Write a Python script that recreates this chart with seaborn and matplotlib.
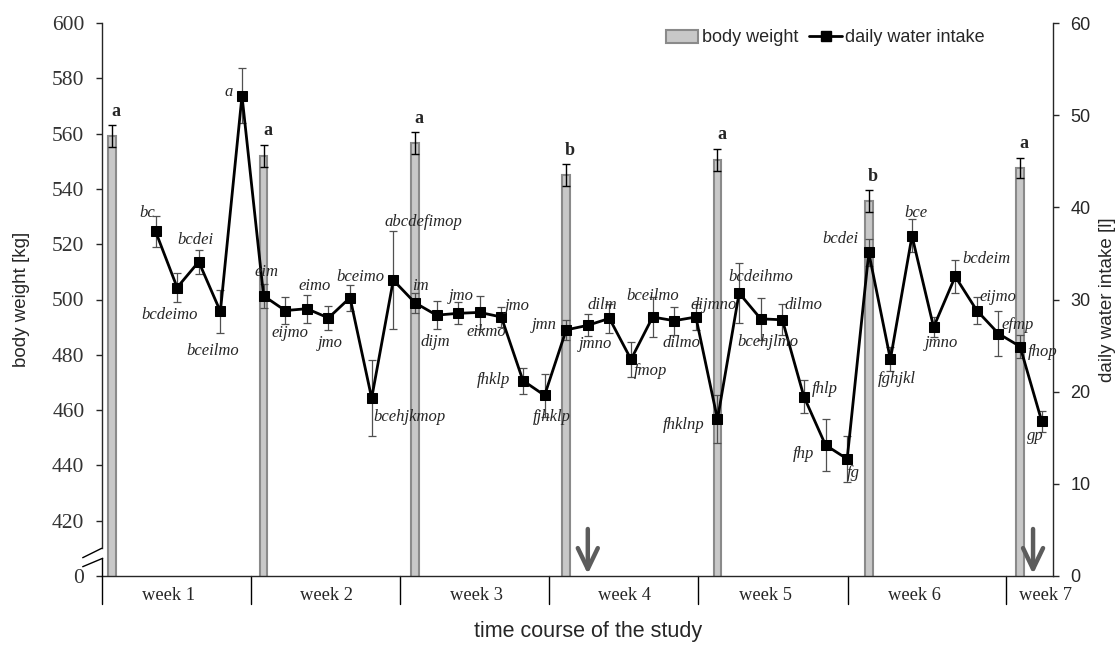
import matplotlib
matplotlib.use("Agg")
import matplotlib.pyplot as plt
import matplotlib.transforms as mtransforms
from matplotlib.lines import Line2D
from matplotlib.patches import Patch
import seaborn as sns

# ---------------------------------------------------------------- data
# body weight, weighed once a week (study day, mean, SD, group letter)
weigh_days = [0, 7, 14, 21, 28, 35, 42]
body_weight = [559.0, 552.0, 556.5, 545.0, 550.5, 535.5, 547.5]
body_weight_err = [4.0, 4.0, 4.0, 4.0, 4.0, 4.0, 3.7]
body_weight_groups = ["a", "a", "a", "b", "a", "b", "a"]

# daily water intake, study days 2 to 43 (mean, SD, group letters)
water_days = list(range(2, 44))
water_intake = [37.4, 31.3, 34.1, 28.7, 52.1,
                30.4, 28.8, 29.0, 28.0, 30.2, 19.3, 32.1,
                29.65, 28.3, 28.5, 28.6, 28.1, 21.2, 19.6,
                26.7, 27.2, 27.95, 23.5, 28.1, 27.7, 28.1,
                17.0, 30.7, 27.9, 27.8, 19.45, 14.2, 12.7,
                35.1, 23.5, 36.9, 27.0, 32.5, 28.8, 26.3,
                24.9, 16.8]
water_err = [1.7, 1.6, 1.3, 2.3, 3.0,
             1.3, 1.5, 1.5, 1.3, 1.4, 4.1, 5.3,
             1.1, 1.5, 1.2, 1.8, 1.1, 1.4, 2.3,
             1.1, 1.2, 1.6, 1.9, 2.2, 1.5, 1.4,
             2.6, 3.3, 2.3, 1.7, 1.8, 2.8, 2.5,
             1.5, 1.3, 1.8, 1.1, 1.75, 1.5, 2.4,
             1.3, 1.15]
water_groups = ["bc", "bcdeimo", "bcdei", "bceilmo", "a",
                "eim", "eijmo", "eimo", "jmo", "bceimo", "bcehjkmop", "abcdefimop",
                "im", "dijm", "jmo", "eikmo", "jmo", "fhklp", "fjhklp",
                "jmn", "jmno", "dilm", "fmop", "bceilmo", "dilmo", "dijmno",
                "fhklnp", "bcdeihmo", "bcehjlmo", "dilmo", "fhlp", "fhp", "fg",
                "bcdei", "fghjkl", "bce", "jmno", "bcdeim", "eijmo", "efmp",
                "fhop", "gp"]

week_labels = ["week 1", "week 2", "week 3", "week 4", "week 5", "week 6", "week 7"]
bw_ticks = [400, 420, 440, 460, 480, 500, 520, 540, 560, 580, 600]
bw_tick_labels = ["0", "420", "440", "460", "480", "500", "520", "540", "560", "580", "600"]

# days on which the treatment was given (arrows)
arrow_days = [22, 42.6]

# ---------------------------------------------------------------- layout
# week separators / label centres on the day axis
week_bounds = [-0.5, 6.42, 13.31, 20.22, 27.10, 34.02, 41.37]
week_label_pos = [2.58, 9.93, 16.83, 23.72, 30.2, 37.1, 43.16]

# text offsets (pixels, right / down) of the letter labels from each point
label_offsets = [(-8, -18), (-8, 27), (-3, -22), (-8, 40), (-13, -4),
                 (3, -24), (5, 22), (8, -23), (2, 25), (10, -21), (38, 19), (30, -58),
                 (5, -17), (-1, 27), (3, -17), (7, 20), (16, -11), (-29, -1), (7, 22),
                 (-22, -5), (7.5, 19), (-7, -13), (19, 12), (0, -21), (7.5, 22), (18, -12),
                 (-34, 6), (22, -16), (7, 23), (21, -15), (21, -8), (-22, 9), (6, 14),
                 (-28.5, -13), (6, 20), (4, -23), (8, 16), (31.5, -17), (21, -14), (19, -9),
                 (23, 5), (-6, 15)]

SERIF = "Liberation Serif"
SANS = "Liberation Sans"
BAR_FILL = "#c8c8c8"
BAR_EDGE = "#8a8a8a"

sns.set_style("ticks")
plt.rcParams["font.family"] = [SANS, "DejaVu Sans"]
plt.rcParams["axes.linewidth"] = 1.0

W_PX, H_PX = 1117, 652
fig = plt.figure(figsize=(W_PX / 100, H_PX / 100), dpi=100)
left_px, right_px, top_px, bottom_px = 101.5, 1052.5, 23, 576
ax = fig.add_axes([left_px / W_PX, 1 - bottom_px / H_PX,
                   (right_px - left_px) / W_PX, (bottom_px - top_px) / H_PX])
ax2 = ax.twinx()

# ---------------------------------------------------------------- bars
sns.barplot(x=weigh_days, y=body_weight, native_scale=True, orient="x",
            width=0.36 / 7, color=BAR_FILL, saturation=1, edgecolor=BAR_EDGE,
            linewidth=1.5, errorbar=None, ax=ax, zorder=2)
ax.errorbar(weigh_days, body_weight, yerr=body_weight_err, fmt="none",
            ecolor="black", elinewidth=1.0, capsize=3, capthick=1.0, zorder=3)
for d, w, e, g in zip(weigh_days, body_weight, body_weight_err, body_weight_groups):
    ax.annotate(g, (d, w + e), xytext=(4, 14), textcoords="offset pixels",
                ha="center", va="center", fontsize=13, fontweight="bold",
                family=SERIF)

# ---------------------------------------------------------------- line
ax2.errorbar(water_days, water_intake, yerr=water_err, fmt="none",
             ecolor="#505050", elinewidth=0.9, capsize=3, capthick=0.9, zorder=2)
sns.lineplot(x=water_days, y=water_intake, ax=ax2, color="black", linewidth=2,
             marker="s", markersize=7, markeredgecolor="black", zorder=3)
for d, v, g, (dx, dy) in zip(water_days, water_intake, water_groups, label_offsets):
    ax2.annotate(g, (d, v), xytext=(dx, -dy), textcoords="offset pixels",
                 ha="center", va="center", fontsize=12, fontstyle="italic",
                 family=SERIF)

# ---------------------------------------------------------------- axes
ax.set_xlim(-0.5, 43.5)
ax.set_ylim(400, 600)
ax2.set_ylim(0, 60)
ax.set_xticks([])
ax.set_xlabel("")
ax.set_ylabel("")
ax2.set_xlabel("")
ax2.set_ylabel("")

ax.set_yticks(bw_ticks)
ax.set_yticklabels(bw_tick_labels, fontsize=15.5, family=SERIF, color="#333333")
ax2.set_yticks(range(0, 61, 10))
ax2.set_yticklabels([str(t) for t in range(0, 61, 10)], fontsize=13, family=SANS)
ax.tick_params(axis="y", direction="out", length=6 * 0.72, width=1.0, pad=8.0)
ax2.tick_params(axis="y", direction="out", length=6 * 0.72, width=1.0, pad=8.5)

for a in (ax, ax2):
    a.spines["top"].set_visible(False)
ax.spines["right"].set_visible(False)
ax2.spines["left"].set_visible(False)
ax2.spines["bottom"].set_visible(False)

# broken left axis between 0 and 420
ax.spines["left"].set_bounds(410.1, 600)
ax.plot([-0.5, -0.5], [400, 406.5], color="black", lw=1.0, clip_on=False, zorder=5)
for (x0, y0), (x1, y1) in [((82.7, 557.7), (101.7, 548.3)),
                           ((82.7, 566.7), (102.7, 558.3))]:
    fig.add_artist(Line2D([x0 / W_PX, x1 / W_PX], [1 - y0 / H_PX, 1 - y1 / H_PX],
                          transform=fig.transFigure, color="black", lw=1.0))

# week compartments under the axis
trans = mtransforms.blended_transform_factory(ax.transData, ax.transAxes)
sep_depth = -(604 - bottom_px) / (bottom_px - top_px)
for b in week_bounds:
    ax.plot([b, b], [0, sep_depth], transform=trans, color="black", lw=1.0,
            clip_on=False)
lab_y = -(595 - bottom_px) / (bottom_px - top_px)
for pos, lab in zip(week_label_pos, week_labels):
    ax.text(pos, lab_y, lab, transform=trans, ha="center", va="center",
            fontsize=13.3, family=SERIF)

# treatment arrows
for d in arrow_days:
    ax.annotate("", xy=(d, 400.7), xytext=(d, 417.0),
                arrowprops=dict(arrowstyle="->, head_length=1.5, head_width=0.72",
                                color="#5c5c5c", lw=3.2, shrinkA=0, shrinkB=0,
                                mutation_scale=10),
                zorder=4)

# ---------------------------------------------------------------- titles
fig.text(22 / W_PX, 1 - 299.5 / H_PX, "body weight [kg]", rotation=90,
         ha="center", va="center", fontsize=13.5, family=SANS)
fig.text(1107 / W_PX, 1 - 299.5 / H_PX, "daily water intake [l]", rotation=90,
         ha="center", va="center", fontsize=13.5, family=SANS)
fig.text(588 / W_PX, 1 - 632 / H_PX, "time course of the study",
         ha="center", va="center", fontsize=15.5, family=SANS)

handles = [Patch(facecolor=BAR_FILL, edgecolor=BAR_EDGE, linewidth=1.5),
           Line2D([], [], color="black", lw=2, marker="s", markersize=7)]
fig.legend(handles, ["body weight", "daily water intake"], loc="center right",
           bbox_to_anchor=(985 / W_PX, 1 - 38 / H_PX), bbox_transform=fig.transFigure,
           ncol=2, frameon=False, prop={"family": SANS, "size": 13},
           handlelength=1.8, handletextpad=0.2, columnspacing=0.6,
           borderpad=0, borderaxespad=0)

fig.savefig("out.png", dpi=100)
